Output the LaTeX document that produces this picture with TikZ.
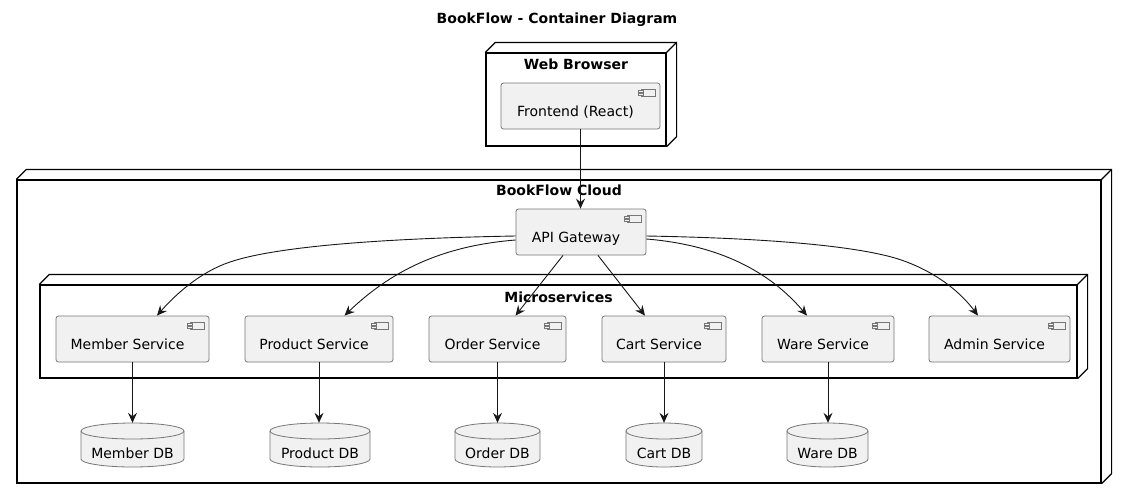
\documentclass[tikz,border=0pt]{standalone}
\usepackage{fontspec}
\setmainfont{DejaVu Sans}
\usetikzlibrary{arrows.meta}
\definecolor{compfill}{HTML}{F1F1F1}
\definecolor{compborder}{HTML}{777777}
\definecolor{arrcol}{HTML}{181818}
\tikzset{
  iconline/.style={draw=compborder, line width=0.7pt, sharp corners},
  comp/.style={draw=compborder, fill=compfill, line width=0.8pt, rounded corners=2.5pt, inner sep=0pt,
    path picture={
      \draw[iconline] ([xshift=-19pt,yshift=-6.3pt]path picture bounding box.north east) rectangle ([xshift=-4.3pt,yshift=-13.7pt]path picture bounding box.north east);
      \draw[iconline, fill=compfill] ([xshift=-21.7pt,yshift=-7.7pt]path picture bounding box.north east) rectangle ([xshift=-16.5pt,yshift=-9.4pt]path picture bounding box.north east);
      \draw[iconline, fill=compfill] ([xshift=-21.7pt,yshift=-10.7pt]path picture bounding box.north east) rectangle ([xshift=-16.5pt,yshift=-12.4pt]path picture bounding box.north east);
    }},
  pkg/.style={draw=black, fill=white, line width=1.2pt, inner sep=0pt},
  pkgedge/.style={draw=black, line width=1.2pt, line join=miter},
  dbshape/.style={draw=compborder, fill=compfill, line width=0.8pt},
  dbbox/.style={inner sep=0pt},
  lbl/.style={font=\fontsize{14pt}{17pt}\selectfont, inner sep=0pt},
  blbl/.style={font=\fontsize{14pt}{17pt}\selectfont\bfseries, inner sep=0pt},
  arr/.style={draw=arrcol, line width=0.9pt, -{Stealth[length=10pt,width=9pt,inset=3.5pt]}}
}
% name, x1, y1, x2, y2, label
\newcommand\compnode[6]{%
  \node[comp, minimum width={(#4-#2)*1pt}, minimum height={(#5-#3)*1pt}] (#1) at ({(#2+#4)/2},{(#3+#5)/2}) {};
  \node[lbl, anchor=base] (#1-t) at ({(#2+#4)/2-5},{#3+33.5}) {#6};
}
% name, x1, y1, x2, y2, label, baseline
\newcommand\pkgnode[7]{%
  \node[pkg, minimum width={(#4-#2)*1pt}, minimum height={(#5-#3)*1pt}] (#1) at ({(#2+#4)/2},{(#3+#5)/2}) {};
  \draw[pkgedge] (#1.north west) -- ++(10pt,10pt) -- ([shift={(10pt,10pt)}]#1.north east) -- ([shift={(10pt,10pt)}]#1.south east) -- (#1.south east);
  \draw[pkgedge] (#1.north east) -- ++(10pt,10pt);
  \node[blbl, anchor=base] (#1-t) at ({(#2+#4)/2},#7) {#6};
}
% name, x1, x2, label
\newcommand\dbnode[4]{%
  \node[dbbox, minimum width={(#3-#2)*1pt}, minimum height=44pt] (#1) at ({(#2+#3)/2},445) {};
  \filldraw[dbshape] (#2,431) -- (#2,459) arc[start angle=180, end angle=360, x radius={(#3-#2)/2*1pt}, y radius=8pt]
     -- (#3,431) arc[start angle=0, end angle=180, x radius={(#3-#2)/2*1pt}, y radius=8pt] -- cycle;
  \draw[dbshape, fill=none] (#2,431) arc[start angle=180, end angle=360, x radius={(#3-#2)/2*1pt}, y radius=8pt];
  \node[lbl, anchor=base] (#1-t) at ({(#2+#3)/2},458) {#4};
}
\begin{document}
\begin{tikzpicture}[x=1pt, y=-1pt]
\useasboundingbox (0,0) rectangle (1127,499);
\node[blbl, anchor=base] (title) at (557,23) {BookFlow - Container Diagram};

\pkgnode{cloud}{17}{180}{1101}{483}{BookFlow Cloud}{195}
\pkgnode{micro}{40}{285}{1077}{378}{Microservices}{302}
\pkgnode{web}{486}{53}{666}{146}{Web Browser}{69}

\compnode{fe}{501}{83}{660}{129}{Frontend (React)}
\compnode{api}{516}{209}{646}{255}{API Gateway}
\compnode{mem}{56}{316}{209}{362}{Member Service}
\compnode{prod}{245}{316}{393}{362}{Product Service}
\compnode{ord}{429}{316}{566}{362}{Order Service}
\compnode{cart}{602}{316}{726}{362}{Cart Service}
\compnode{ware}{762}{316}{894}{362}{Ware Service}
\compnode{adm}{929}{316}{1070}{362}{Admin Service}

\dbnode{memdb}{81}{184}{Member DB}
\dbnode{proddb}{270}{370}{Product DB}
\dbnode{orddb}{455}{540}{Order DB}
\dbnode{cartdb}{626}{702}{Cart DB}
\dbnode{waredb}{787}{868}{Ware DB}

\draw[arr] (fe.south) -- (fe.south |- api.north);
\draw[arr] ([yshift=-4pt]api.west) .. controls (400,238) and (280,245) .. (230,262)
   .. controls (200,272) and (175,295) .. ([xshift=24.5pt]mem.north);
\draw[arr] ([yshift=-8pt]api.west) .. controls (440,246) and (390,272) .. ([xshift=25.5pt]prod.north);
\draw[arr] ([xshift=-18pt]api.south) -- ([xshift=18pt]ord.north);
\draw[arr] ([xshift=17pt]api.south) -- ([xshift=-19pt]cart.north);
\draw[arr] ([yshift=-7pt]api.east) .. controls (720,245) and (770,272) .. ([xshift=-21pt]ware.north);
\draw[arr] ([yshift=-4pt]api.east) .. controls (760,238) and (850,245) .. (895,258)
   .. controls (925,267) and (955,285) .. ([xshift=-21.5pt]adm.north);

\draw[arr] (mem.south) -- (mem.south |- memdb.north);
\draw[arr] (prod.south) -- (prod.south |- proddb.north);
\draw[arr] (ord.south) -- (ord.south |- orddb.north);
\draw[arr] (cart.south) -- (cart.south |- cartdb.north);
\draw[arr] (ware.south) -- (ware.south |- waredb.north);
\end{tikzpicture}
\end{document}
